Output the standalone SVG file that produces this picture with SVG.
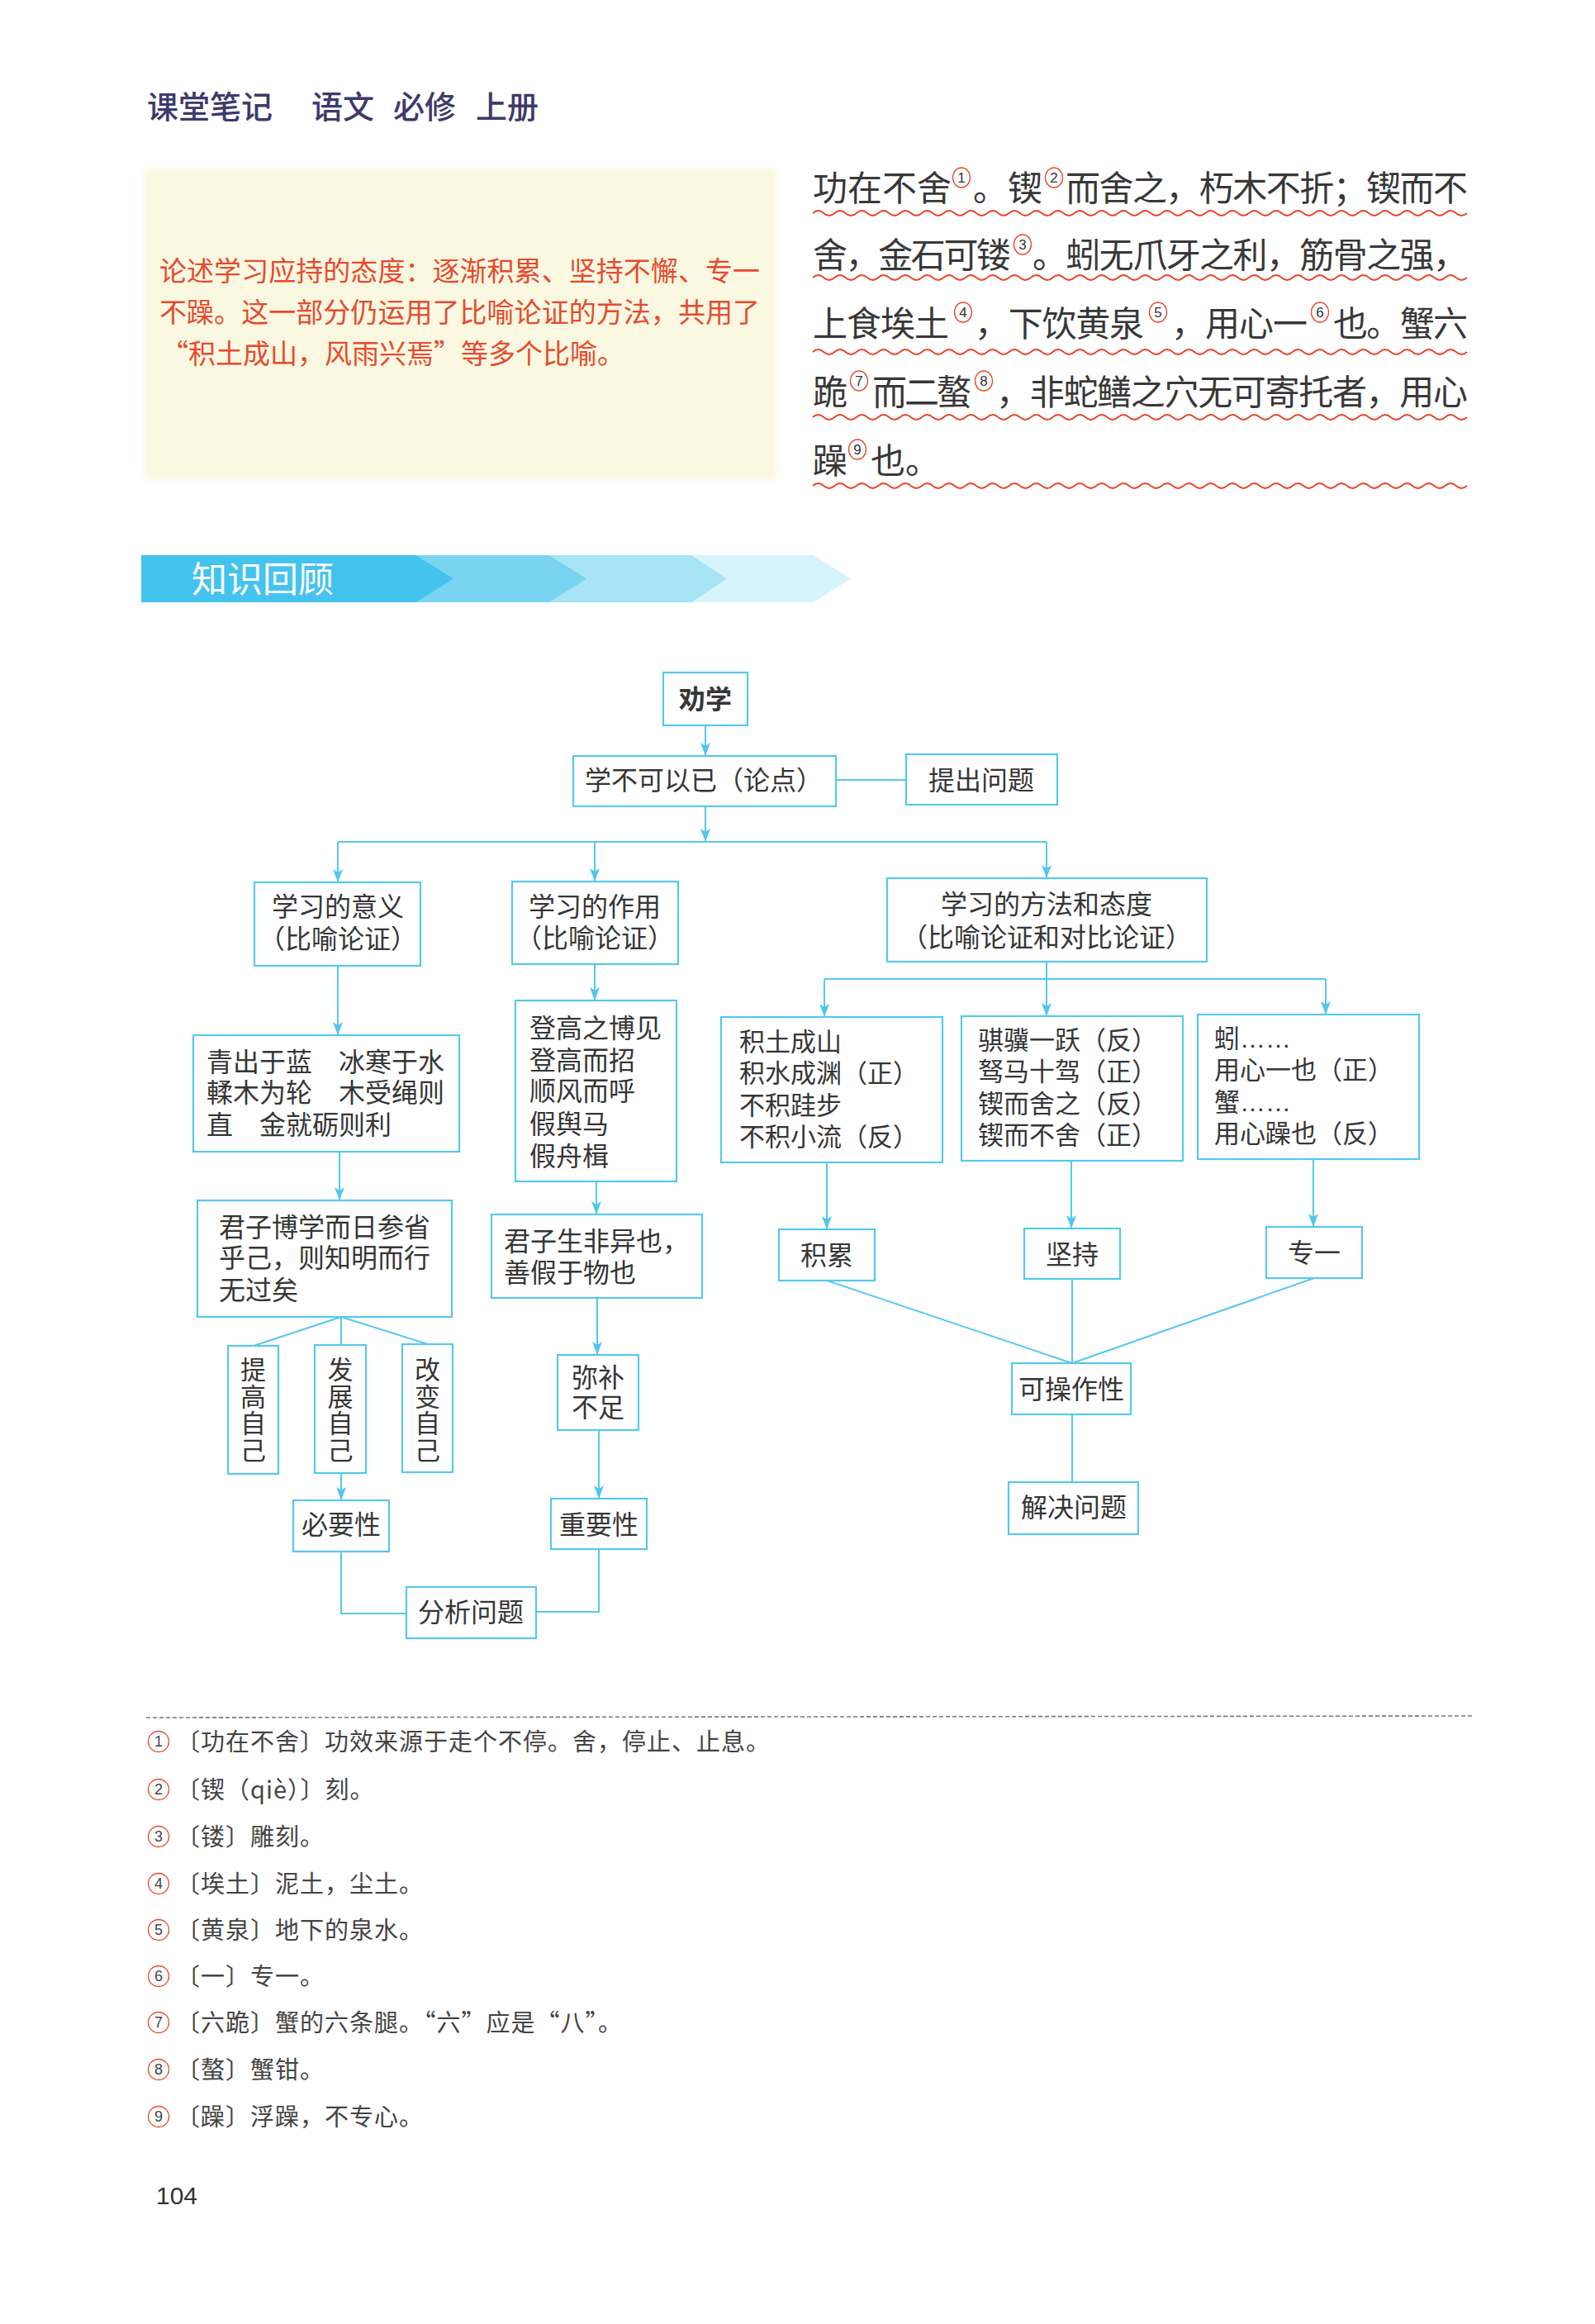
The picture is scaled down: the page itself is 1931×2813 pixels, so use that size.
<svg xmlns="http://www.w3.org/2000/svg" width="1931" height="2813" viewBox="0 0 1931 2813" lang="zh-CN">
<style>
.t{font-family:"Liberation Sans","Noto Sans CJK SC",sans-serif;fill:#363636;font-size:32px}
.m{text-anchor:middle}
.s31{font-size:31px}
.v{font-family:"Noto Sans CJK SC",sans-serif;fill:#363636;font-size:31px;writing-mode:vertical-rl;text-orientation:upright;letter-spacing:1.5px}
.box{fill:#fff;stroke:#56c8ee;stroke-width:2.2}
.ln{fill:none;stroke:#56c8ee;stroke-width:2}
.body{font-family:"Noto Sans CJK SC","Noto Sans",sans-serif;fill:#383838;font-size:42px}
.sup{fill:none;stroke:#e8452c;stroke-width:1.3}
.supn{font-family:"Liberation Sans",sans-serif;font-size:17px;fill:#333;text-anchor:middle}
.fn{font-family:"Noto Sans CJK SC","Noto Sans",sans-serif;fill:#444;font-size:29px;letter-spacing:1px}
.fnn{font-family:"Liberation Sans",sans-serif;font-size:18px;fill:#444;text-anchor:middle}
.red{font-family:"Noto Sans CJK SC",sans-serif;fill:#e64a2e;font-size:33px}
.hd{font-family:"Noto Sans CJK SC",sans-serif;fill:#3d3a6b;font-size:38px;font-weight:500}
</style>
<defs>
<marker id="ar" markerUnits="userSpaceOnUse" viewBox="0 0 16 12" refX="16" refY="6" markerWidth="16" markerHeight="12" orient="auto">
<path d="M0,0 L16,6 L0,12 L4,6 Z" fill="#4fc6ee"/>
</marker>
<path id="wave" d="M984,0 q6.6,-6 13.2,0 t13.2,0 t13.2,0 t13.2,0 t13.2,0 t13.2,0 t13.2,0 t13.2,0 t13.2,0 t13.2,0 t13.2,0 t13.2,0 t13.2,0 t13.2,0 t13.2,0 t13.2,0 t13.2,0 t13.2,0 t13.2,0 t13.2,0 t13.2,0 t13.2,0 t13.2,0 t13.2,0 t13.2,0 t13.2,0 t13.2,0 t13.2,0 t13.2,0 t13.2,0 t13.2,0 t13.2,0 t13.2,0 t13.2,0 t13.2,0 t13.2,0 t13.2,0 t13.2,0 t13.2,0 t13.2,0 t13.2,0 t13.2,0 t13.2,0 t13.2,0 t13.2,0 t13.2,0 t13.2,0 t13.2,0 t13.2,0 t13.2,0 t13.2,0 t13.2,0 t13.2,0 t13.2,0 t13.2,0 t13.2,0 t13.2,0 t13.2,0 t13.2,0 t13.2,0" fill="none" stroke="#e8452c" stroke-width="1.8"/>
<filter id="soft" x="-5%" y="-5%" width="110%" height="110%"><feGaussianBlur stdDeviation="3"/></filter>
</defs>
<rect width="1931" height="2813" fill="#ffffff"/>

<g id="header">
<text class="hd" x="178" y="143">课堂笔记</text>
<text class="hd" x="377" y="143">语文</text>
<text class="hd" x="476" y="143">必修</text>
<text class="hd" x="576" y="143">上册</text>
</g>

<g id="note">
<rect x="175" y="205" width="766" height="375" fill="#fbf8e1" filter="url(#soft)"/>
<text class="red"><tspan x="193" y="340" textLength="727" lengthAdjust="spacing">论述学习应持的态度：逐渐积累、坚持不懈、专一</tspan><tspan x="193" y="390" textLength="727" lengthAdjust="spacing">不躁。这一部分仍运用了比喻论证的方法，共用了</tspan><tspan x="195" y="440">“积土成山，风雨兴焉”等多个比喻。</tspan></text>
</g>

<g id="original">
<use href="#wave" y="258"/>
<use href="#wave" y="336"/>
<use href="#wave" y="426"/>
<use href="#wave" y="505"/>
<use href="#wave" y="588"/>
<text class="body" x="984" y="243" textLength="168" lengthAdjust="spacing">功在不舍</text>
<ellipse class="sup" cx="1164" cy="215" rx="10.5" ry="12"/><text class="supn" x="1164" y="221">1</text>
<text class="body" x="1178" y="243" textLength="84" lengthAdjust="spacing">。锲</text>
<ellipse class="sup" cx="1276" cy="215" rx="10.5" ry="12"/><text class="supn" x="1276" y="221">2</text>
<text class="body" x="1290" y="243" textLength="487" lengthAdjust="spacing">而舍之，朽木不折；锲而不</text>

<text class="body" x="984" y="324" textLength="240" lengthAdjust="spacing">舍，金石可镂</text>
<ellipse class="sup" cx="1238" cy="296" rx="10.5" ry="12"/><text class="supn" x="1238" y="302">3</text>
<text class="body" x="1250" y="324" textLength="527" lengthAdjust="spacing">。蚓无爪牙之利，筋骨之强，</text>

<text class="body" x="984" y="407" textLength="165" lengthAdjust="spacing">上食埃土</text>
<ellipse class="sup" cx="1166" cy="378" rx="10.5" ry="12"/><text class="supn" x="1166" y="384">4</text>
<text class="body" x="1180" y="407" textLength="205" lengthAdjust="spacing">，下饮黄泉</text>
<ellipse class="sup" cx="1402" cy="378" rx="10.5" ry="12"/><text class="supn" x="1402" y="384">5</text>
<text class="body" x="1418" y="407" textLength="165" lengthAdjust="spacing">，用心一</text>
<ellipse class="sup" cx="1598" cy="378" rx="10.5" ry="12"/><text class="supn" x="1598" y="384">6</text>
<text class="body" x="1614" y="407" textLength="163" lengthAdjust="spacing">也。蟹六</text>

<text class="body" x="984" y="490">跪</text>
<ellipse class="sup" cx="1040" cy="461" rx="10.5" ry="12"/><text class="supn" x="1040" y="467">7</text>
<text class="body" x="1056" y="490" textLength="120" lengthAdjust="spacing">而二螯</text>
<ellipse class="sup" cx="1191" cy="461" rx="10.5" ry="12"/><text class="supn" x="1191" y="467">8</text>
<text class="body" x="1206" y="490" textLength="571" lengthAdjust="spacing">，非蛇鳝之穴无可寄托者，用心</text>

<text class="body" x="984" y="573">躁</text>
<ellipse class="sup" cx="1038" cy="544" rx="10.5" ry="12"/><text class="supn" x="1038" y="550">9</text>
<text class="body" x="1054" y="573">也。</text>
</g>

<g id="banner">
<polygon points="837,672 985,672 1030,700.5 985,729 837,729 880,700.5" fill="#d6f4fb"/>
<polygon points="665,672 837,672 880,700.5 837,729 665,729 711,700.5" fill="#a6e4f6"/>
<polygon points="504,672 665,672 711,700.5 665,729 504,729 550,700.5" fill="#79d4f2"/>
<polygon points="171,672 504,672 550,700.5 504,729 171,729" fill="#45c3ef"/>
<text x="232" y="717" font-family="Noto Sans CJK SC, sans-serif" font-size="43" fill="#ffffff">知识回顾</text>
</g>

<g id="connectors">
<line class="ln" x1="854" y1="878" x2="854" y2="915" marker-end="url(#ar)"/>
<line class="ln" x1="1012" y1="944" x2="1097" y2="944"/>
<line class="ln" x1="854" y1="976" x2="854" y2="1019" marker-end="url(#ar)"/>
<line class="ln" x1="409" y1="1019" x2="1267" y2="1019"/>
<line class="ln" x1="409" y1="1019" x2="409" y2="1068" marker-end="url(#ar)"/>
<line class="ln" x1="720" y1="1019" x2="720" y2="1067" marker-end="url(#ar)"/>
<line class="ln" x1="1267" y1="1019" x2="1267" y2="1063" marker-end="url(#ar)"/>
<line class="ln" x1="409" y1="1169" x2="409" y2="1253" marker-end="url(#ar)"/>
<line class="ln" x1="411" y1="1394" x2="411" y2="1453" marker-end="url(#ar)"/>
<line class="ln" x1="413" y1="1594" x2="307" y2="1629"/>
<line class="ln" x1="413" y1="1594" x2="413" y2="1628"/>
<line class="ln" x1="413" y1="1594" x2="518" y2="1627"/>
<line class="ln" x1="413" y1="1783" x2="413" y2="1816" marker-end="url(#ar)"/>
<polyline class="ln" points="413,1878 413,1953 492,1953"/>
<polyline class="ln" points="649,1951 725,1951 725,1875"/>
<line class="ln" x1="720" y1="1167" x2="720" y2="1211" marker-end="url(#ar)"/>
<line class="ln" x1="722" y1="1430" x2="722" y2="1470" marker-end="url(#ar)"/>
<line class="ln" x1="723" y1="1571" x2="723" y2="1640" marker-end="url(#ar)"/>
<line class="ln" x1="725" y1="1731" x2="725" y2="1814" marker-end="url(#ar)"/>
<line class="ln" x1="1267" y1="1164" x2="1267" y2="1185"/>
<line class="ln" x1="998" y1="1185" x2="1605" y2="1185"/>
<line class="ln" x1="998" y1="1185" x2="998" y2="1231" marker-end="url(#ar)"/>
<line class="ln" x1="1267" y1="1185" x2="1267" y2="1230" marker-end="url(#ar)"/>
<line class="ln" x1="1605" y1="1185" x2="1605" y2="1228" marker-end="url(#ar)"/>
<line class="ln" x1="1001" y1="1407" x2="1001" y2="1488" marker-end="url(#ar)"/>
<line class="ln" x1="1297" y1="1405" x2="1297" y2="1487" marker-end="url(#ar)"/>
<line class="ln" x1="1590" y1="1403" x2="1590" y2="1485" marker-end="url(#ar)"/>
<line class="ln" x1="1001" y1="1550" x2="1298" y2="1650"/>
<line class="ln" x1="1298" y1="1548" x2="1298" y2="1650"/>
<line class="ln" x1="1591" y1="1547" x2="1298" y2="1650"/>
<line class="ln" x1="1298" y1="1712" x2="1298" y2="1794"/>
</g>

<g id="n-quanxue"><rect class="box" x="803" y="814" width="102" height="64"/><text class="t m" x="854" y="858" font-weight="bold">劝学</text></g>
<g id="n-lundian"><rect class="box" x="694" y="915" width="318" height="61"/><text class="t m" x="852" y="956">学不可以已（论点）</text></g>
<g id="n-tichu"><rect class="box" x="1097" y="913" width="183" height="61"/><text class="t m" x="1188" y="956">提出问题</text></g>
<g id="n-yiyi"><rect class="box" x="308" y="1068" width="201" height="101"/><text class="t m"><tspan x="409" y="1109">学习的意义</tspan><tspan x="409" y="1148">（比喻论证）</tspan></text></g>
<g id="n-zuoyong"><rect class="box" x="620" y="1067" width="201" height="100"/><text class="t m"><tspan x="720" y="1109">学习的作用</tspan><tspan x="720" y="1147">（比喻论证）</tspan></text></g>
<g id="n-fangfa"><rect class="box" x="1074" y="1063" width="387" height="101"/><text class="t m"><tspan x="1267" y="1106">学习的方法和态度</tspan><tspan x="1267" y="1146">（比喻论证和对比论证）</tspan></text></g>
<g id="n-qing"><rect class="box" x="234" y="1253" width="322" height="141"/>
<text class="t"><tspan x="250" y="1297">青出于蓝　冰寒于水</tspan><tspan x="250" y="1334">輮木为轮　木受绳则</tspan><tspan x="250" y="1373">直　金就砺则利</tspan></text></g>
<g id="n-denggao"><rect class="box" x="624" y="1211" width="195" height="219"/>
<text class="t"><tspan x="641" y="1256">登高之博见</tspan><tspan x="641" y="1295">登高而招</tspan><tspan x="641" y="1332">顺风而呼</tspan><tspan x="641" y="1372">假舆马</tspan><tspan x="641" y="1411">假舟楫</tspan></text></g>
<g id="n-jitu"><rect class="box" x="873" y="1231" width="268" height="176"/>
<text class="t s31"><tspan x="895" y="1272">积土成山</tspan><tspan x="895" y="1310">积水成渊（正）</tspan><tspan x="895" y="1349">不积跬步</tspan><tspan x="895" y="1387">不积小流（反）</tspan></text></g>
<g id="n-qiji"><rect class="box" x="1164" y="1230" width="268" height="175"/>
<text class="t s31"><tspan x="1184" y="1270">骐骥一跃（反）</tspan><tspan x="1184" y="1308">驽马十驾（正）</tspan><tspan x="1184" y="1347">锲而舍之（反）</tspan><tspan x="1184" y="1385">锲而不舍（正）</tspan></text></g>
<g id="n-yin"><rect class="box" x="1450" y="1228" width="268" height="175"/>
<text class="t s31"><tspan x="1470" y="1268">蚓……</tspan><tspan x="1470" y="1306">用心一也（正）</tspan><tspan x="1470" y="1345">蟹……</tspan><tspan x="1470" y="1383">用心躁也（反）</tspan></text></g>
<g id="n-junzi1"><rect class="box" x="239" y="1453" width="308" height="141"/>
<text class="t"><tspan x="265" y="1497">君子博学而日参省</tspan><tspan x="265" y="1534">乎己，则知明而行</tspan><tspan x="265" y="1573">无过矣</tspan></text></g>
<g id="n-junzi2"><rect class="box" x="595" y="1470" width="255" height="101"/>
<text class="t"><tspan x="610" y="1514">君子生非异也，</tspan><tspan x="610" y="1552">善假于物也</tspan></text></g>
<g id="n-jilei"><rect class="box" x="943" y="1488" width="116" height="62"/><text class="t m" x="1001" y="1531">积累</text></g>
<g id="n-jianchi"><rect class="box" x="1240" y="1487" width="116" height="61"/><text class="t m" x="1298" y="1530">坚持</text></g>
<g id="n-zhuanyi"><rect class="box" x="1533" y="1485" width="116" height="62"/><text class="t m" x="1591" y="1528">专一</text></g>
<g id="n-tigao"><rect class="box" x="276" y="1629" width="61" height="155"/><text class="v" x="306.5" y="1642">提高自己</text></g>
<g id="n-fazhan"><rect class="box" x="381" y="1628" width="62" height="155"/><text class="v" x="412" y="1642">发展自己</text></g>
<g id="n-gaibian"><rect class="box" x="487" y="1627" width="61" height="155"/><text class="v" x="517.5" y="1642">改变自己</text></g>
<g id="n-mibu"><rect class="box" x="675" y="1640" width="98" height="91"/>
<text class="t m"><tspan x="724" y="1679">弥补</tspan><tspan x="724" y="1715">不足</tspan></text></g>
<g id="n-kecaozuo"><rect class="box" x="1225" y="1650" width="144" height="62"/><text class="t m" x="1297" y="1693">可操作性</text></g>
<g id="n-biyao"><rect class="box" x="355" y="1816" width="116" height="62"/><text class="t m" x="413" y="1857">必要性</text></g>
<g id="n-zhongyao"><rect class="box" x="667" y="1814" width="116" height="61"/><text class="t m" x="725" y="1857">重要性</text></g>
<g id="n-jiejue"><rect class="box" x="1221" y="1794" width="157" height="63"/><text class="t m" x="1300" y="1836">解决问题</text></g>
<g id="n-fenxi"><rect class="box" x="492" y="1921" width="157" height="62"/><text class="t m" x="570" y="1963">分析问题</text></g>

<g id="footnotes">
<line x1="177" y1="2079" x2="1782" y2="2077" stroke="#7a7a7a" stroke-width="1.6" stroke-dasharray="5 3"/>
<circle class="sup" cx="192" cy="2108" r="12.5"/><text class="fnn" x="192" y="2114">1</text>
<text class="fn" x="213" y="2119">〔功在不舍〕功效来源于走个不停。舍，停止、止息。</text>
<circle class="sup" cx="192" cy="2166" r="12.5"/><text class="fnn" x="192" y="2172">2</text>
<text class="fn" x="213" y="2177">〔锲（qiè）〕刻。</text>
<circle class="sup" cx="192" cy="2223" r="12.5"/><text class="fnn" x="192" y="2229">3</text>
<text class="fn" x="213" y="2234">〔镂〕雕刻。</text>
<circle class="sup" cx="192" cy="2280" r="12.5"/><text class="fnn" x="192" y="2286">4</text>
<text class="fn" x="213" y="2291">〔埃土〕泥土，尘土。</text>
<circle class="sup" cx="192" cy="2336" r="12.5"/><text class="fnn" x="192" y="2342">5</text>
<text class="fn" x="213" y="2347">〔黄泉〕地下的泉水。</text>
<circle class="sup" cx="192" cy="2392" r="12.5"/><text class="fnn" x="192" y="2398">6</text>
<text class="fn" x="213" y="2403">〔一〕专一。</text>
<circle class="sup" cx="192" cy="2448" r="12.5"/><text class="fnn" x="192" y="2454">7</text>
<text class="fn" x="213" y="2459">〔六跪〕蟹的六条腿。“六”应是“八”。</text>
<circle class="sup" cx="192" cy="2505" r="12.5"/><text class="fnn" x="192" y="2511">8</text>
<text class="fn" x="213" y="2516">〔螯〕蟹钳。</text>
<circle class="sup" cx="192" cy="2562" r="12.5"/><text class="fnn" x="192" y="2568">9</text>
<text class="fn" x="213" y="2573">〔躁〕浮躁，不专心。</text>
</g>

<text x="189" y="2668" font-family="Liberation Sans Narrow, Liberation Sans, sans-serif" font-size="30" fill="#333">104</text>
</svg>
